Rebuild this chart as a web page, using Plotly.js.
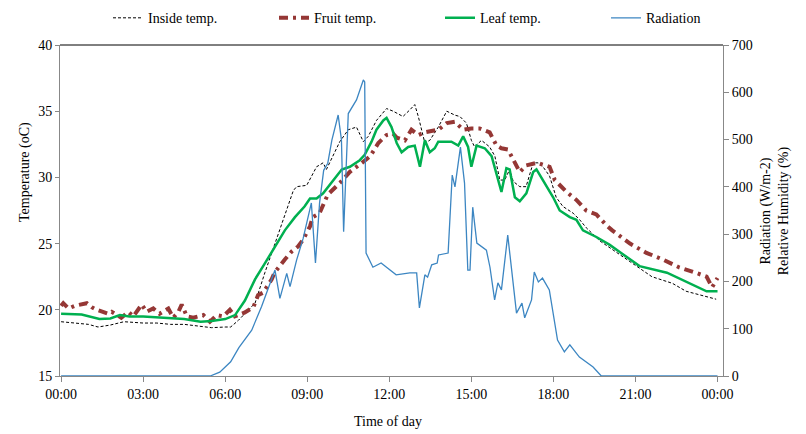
<!DOCTYPE html>
<html><head><meta charset="utf-8">
<script src="https://cdn.plot.ly/plotly-3.0.1.min.js"></script>
<style>html,body{margin:0;padding:0;background:#fff}#chart{width:806px;height:434px}</style>
</head><body><div id="chart"></div>
<script>
const tickHours = [0, 3, 6, 9, 12, 15, 18, 21, 24];
const tickLabels = ["00:00", "03:00", "06:00", "09:00", "12:00", "15:00", "18:00", "21:00", "00:00"];

const insideTime = [0,0.5,1.0,1.35,1.8,2.3,3.0,3.5,4.0,4.5,5.0,5.5,6.0,6.2,6.48,7.09,7.45,7.82,8.18,8.49,8.61,8.98,9.34,9.58,9.7,9.95,10.19,10.5,10.8,11.05,11.23,11.53,11.9,12.14,12.5,12.75,12.93,13.06,13.3,13.48,13.79,14.1,14.4,14.58,14.82,15.0,15.12,15.37,15.67,15.86,16.04,16.22,16.4,16.53,16.77,17.0,17.26,17.44,17.62,17.86,18.1,18.35,18.72,18.96,19.2,19.7,20.7,21.6,22.35,22.85,23.95];
const insideTemp = [19.1,19.0,18.9,18.7,18.85,19.1,19.0,19.0,18.9,18.9,18.8,18.65,18.7,18.7,19.2,20.5,22.8,25.0,27.0,29.0,29.3,29.4,30.8,31.1,30.6,31.7,32.7,33.6,33.8,32.7,33.1,34.3,35.2,35.0,34.6,35.1,35.5,34.6,32.6,32.8,33.8,35.0,34.7,34.6,34.1,32.8,32.3,32.8,32.3,31.6,29.8,29.8,30.6,29.7,29.3,29.3,31.1,31.1,30.8,30.1,28.5,27.8,27.3,26.8,26.2,25.2,23.8,22.5,22.0,21.4,20.8];

const fruitTime = [0,0.08,0.27,0.5,0.94,1.12,1.3,1.73,1.85,2.2,2.46,2.64,2.95,3.12,3.37,3.6,3.92,4.1,4.29,4.41,4.6,4.83,5.2,5.44,5.69,5.93,6.17,6.35,6.72,7.03,7.2,7.39,7.7,7.8,8.18,8.43,8.67,8.85,9.1,9.2,9.45,9.75,10.2,10.55,11.0,11.3,11.6,11.9,12.14,12.27,12.57,12.81,13.06,13.3,13.54,13.79,14.1,14.4,14.7,15.0,15.3,15.67,15.92,16.1,16.34,16.53,16.77,17.0,17.4,17.86,18.05,18.48,18.84,19.2,19.57,19.93,20.15,20.8,21.4,22.0,22.6,23.2,23.6,23.8,24];
const fruitTemp = [20.3,20.5,20.1,20.3,20.5,20.2,20.0,19.7,19.85,19.4,19.85,19.5,20.4,19.85,20.1,19.7,20.1,19.4,19.85,20.4,19.5,19.4,19.6,19.1,19.6,19.5,20.0,19.5,19.8,20.2,21.1,21.3,22.3,22.8,23.8,24.4,24.8,25.3,26.3,27.0,27.3,28.7,29.6,30.4,31.1,31.6,32.6,33.2,33.3,33.0,32.8,33.6,33.2,33.4,33.5,33.6,34.1,34.2,33.6,33.7,33.7,33.4,32.4,32.2,32.1,31.4,30.4,30.9,31.1,30.8,29.8,28.9,28.3,27.5,27.2,26.4,26.0,25.0,24.3,23.8,23.2,22.8,22.5,21.7,22.4];

const leafTime = [0,0.75,1.4,1.8,2.15,2.5,3.0,3.5,4.0,4.5,5.1,5.5,6.0,6.36,6.72,7.09,7.45,7.82,8.18,8.55,8.9,9.1,9.34,9.58,9.95,10.26,10.56,10.92,11.1,11.35,11.53,11.78,11.9,12.08,12.27,12.45,12.69,12.93,13.12,13.3,13.48,13.66,13.79,14.27,14.52,14.7,14.88,15.0,15.19,15.49,15.74,15.98,16.1,16.28,16.4,16.59,16.77,17.01,17.26,17.38,17.62,17.99,18.23,18.6,18.84,19.08,19.57,20.06,20.4,21.15,22.15,23.0,23.6,24];
const leafTemp = [19.7,19.65,19.3,19.35,19.6,19.5,19.5,19.45,19.4,19.3,19.1,19.15,19.3,19.6,20.7,22.3,23.5,24.8,26.0,27.0,27.8,28.4,28.4,28.8,29.8,30.6,30.8,31.3,31.7,32.7,33.6,34.3,34.5,33.8,32.6,31.9,32.3,32.4,30.8,32.8,31.9,32.2,32.7,32.7,32.4,33.1,32.3,30.8,32.4,32.2,31.6,29.8,28.9,30.7,30.6,28.5,28.2,28.8,30.4,30.6,29.8,28.5,27.5,27.0,26.8,26.0,25.5,24.9,24.4,23.3,22.8,22.0,21.4,21.4];

const radTime = [0,5.45,5.8,6.2,6.5,6.97,7.33,7.7,7.82,8.0,8.25,8.37,8.61,8.85,9.15,9.3,9.45,9.6,9.75,9.9,10.13,10.25,10.33,10.5,10.8,11.05,11.1,11.15,11.4,11.7,12.25,12.75,13.0,13.1,13.3,13.4,13.55,13.75,13.8,14.15,14.3,14.4,14.6,14.75,14.87,14.95,15.05,15.2,15.38,15.55,15.68,15.85,15.97,16.1,16.33,16.65,16.85,16.95,17.2,17.3,17.45,17.6,17.85,18.15,18.4,18.6,18.95,19.45,19.75,24];
const radValue = [0,0,8,30,60,97,147,203,224,164,217,189,245,291,366,239,366,435,450,499,552,499,305,555,584,626,622,260,230,239,214,218,218,144,214,209,235,239,256,260,425,400,484,408,224,224,357,281,273,266,230,161,197,182,298,133,154,123,161,220,199,207,182,76,51,66,40,19,0,0];

const font = "Liberation Serif, Times New Roman, serif";

const traces = [
  {x: insideTime, y: insideTemp, name: "Inside temp.", type: "scatter", mode: "lines",
   line: {color: "#000000", width: 1, dash: "3px,2px"}},
  {x: fruitTime, y: fruitTemp, name: "Fruit temp.", type: "scatter", mode: "lines",
   line: {color: "#953735", width: 4, dash: "9px,5px,3px,5px"}},
  {x: leafTime, y: leafTemp, name: "Leaf temp.", type: "scatter", mode: "lines",
   line: {color: "#00B050", width: 2.5}},
  {x: radTime, y: radValue, name: "Radiation", type: "scatter", mode: "lines", yaxis: "y2",
   line: {color: "#3C86C2", width: 1.3}}
];

const layout = {
  width: 806, height: 434,
  margin: {l: 60, r: 83, t: 45, b: 58},
  paper_bgcolor: "#fff", plot_bgcolor: "#fff",
  font: {family: font, size: 14, color: "#000"},
  showlegend: true,
  legend: {orientation: "h", xref: "container", x: 0.134, xanchor: "left", yref: "container", y: 0.958, yanchor: "middle",
           font: {family: font, size: 14, color: "#000"}, entrywidth: 121, entrywidthmode: "pixels",
           bgcolor: "rgba(0,0,0,0)"},
  xaxis: {range: [-0.04, 24.2], tickvals: tickHours, ticktext: tickLabels, showgrid: false, zeroline: false,
          showline: true, linecolor: "#888", linewidth: 1, ticks: "outside", ticklen: 5, tickcolor: "#888",
          tickfont: {family: font, size: 14, color: "#000"}},
  yaxis: {range: [15, 40], dtick: 5, showgrid: false, zeroline: false, showline: true, linecolor: "#888",
          ticks: "outside", ticklen: 4, tickcolor: "#888", tickfont: {family: font, size: 14, color: "#000"}},
  yaxis2: {range: [0, 700], dtick: 100, overlaying: "y", side: "right", showgrid: false, zeroline: false,
           showline: true, linecolor: "#888", ticks: "outside", ticklen: 5, tickcolor: "#888",
           tickfont: {family: font, size: 14, color: "#000"}},
  shapes: [{type: "line", xref: "paper", yref: "paper", x0: 0, x1: 1, y0: 1, y1: 1, line: {color: "#000", width: 1}}],
  annotations: [
    {text: "Time of day", xref: "paper", yref: "paper", x: 0.495, y: -0.136, yanchor: "middle", showarrow: false,
     font: {family: font, size: 14}},
    {text: "Temperature (oC)", xref: "paper", yref: "paper", x: -0.052, y: 0.615, xanchor: "center", yanchor: "middle",
     textangle: -90, showarrow: false, font: {family: font, size: 14}},
    {text: "Radiation (W/m-2)<br>Relative Humidity (%)", xref: "paper", yref: "paper", x: 1.078, y: 0.5,
     xanchor: "center", yanchor: "middle", textangle: -90, showarrow: false, font: {family: font, size: 14}}
  ]
};

Plotly.newPlot("chart", traces, layout, {displayModeBar: false, staticPlot: true});
</script>
</body></html>
